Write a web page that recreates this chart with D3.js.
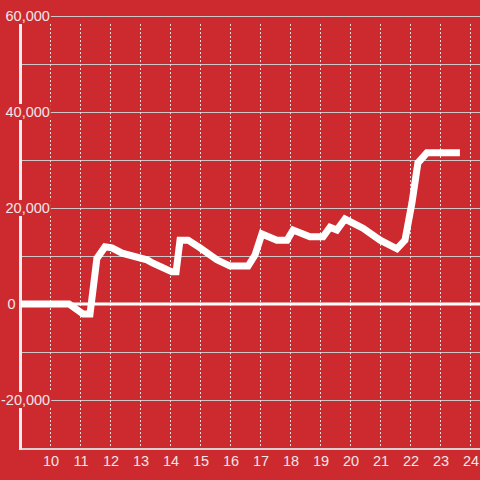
<!DOCTYPE html>
<html>
<head>
<meta charset="utf-8">
<script src="https://cdn.jsdelivr.net/npm/d3@7"></script>
<style>
html,body{margin:0;padding:0;background:#cc2a2f;}
svg{display:block;}
text{font-family:"Liberation Sans",Arial,sans-serif;}
</style>
</head>
<body>
<svg id="chart" width="480" height="480"></svg>
<script>
// Data
const xValues = [9.0, 10.6, 11.07, 11.3, 11.53, 11.8, 12.03, 12.37, 13.2, 13.4, 14.03, 14.17, 14.3, 14.57, 14.97, 15.53, 15.97, 16.57, 16.8, 17.03, 17.53, 17.87, 18.07, 18.63, 19.07, 19.3, 19.53, 19.8, 20.4, 20.97, 21.53, 21.8, 22.03, 22.23, 22.53, 23.63];
const yValues = [0, 0, -2100, -2100, 9500, 11900, 11700, 10600, 9200, 8500, 6700, 6700, 13300, 13300, 11700, 9200, 7900, 7900, 10200, 14600, 13300, 13300, 15400, 14000, 14000, 16000, 15400, 17700, 15800, 13300, 11500, 13300, 21000, 29400, 31500, 31500];
const xTicks = [10, 11, 12, 13, 14, 15, 16, 17, 18, 19, 20, 21, 22, 23, 24];
const yGrid = [-30000, -20000, -10000, 0, 10000, 20000, 30000, 40000, 50000, 60000];
const yLabels = [-20000, 0, 20000, 40000, 60000];

const W = 480, H = 480;
const bg = "#cc2a2f";
const svg = d3.select("#chart");
svg.append("rect").attr("width", W).attr("height", H).attr("fill", bg);

const x = d3.scaleLinear().domain([9, 24.3]).range([21, 480]);
const y = d3.scaleLinear().domain([-30000, 60000]).range([448, 16]);

// horizontal gridlines
svg.append("g").selectAll("line").data(yGrid.filter(d => d !== 0 && d !== -30000)).join("line")
  .attr("x1", 22).attr("x2", W)
  .attr("y1", d => y(d) + 0.5).attr("y2", d => y(d) + 0.5)
  .attr("stroke", "#cfc7c7").attr("stroke-width", 1);

// vertical dashed gridlines
svg.append("g").selectAll("line").data(xTicks).join("line")
  .attr("x1", d => Math.round(x(d)) - 0.5).attr("x2", d => Math.round(x(d)) - 0.5)
  .attr("y1", 24).attr("y2", 446)
  .attr("stroke", "#eadcdc").attr("stroke-width", 1)
  .attr("stroke-dasharray", "2,2");

// bottom domain line
svg.append("line").attr("x1", 20).attr("x2", W)
  .attr("y1", y(-30000) + 1).attr("y2", y(-30000) + 1)
  .attr("stroke", "#d8d0d0").attr("stroke-width", 2);

// y axis line
svg.append("line").attr("x1", 20.5).attr("x2", 20.5)
  .attr("y1", 16).attr("y2", 450)
  .attr("stroke", "#eeeeee").attr("stroke-width", 3);

// zero line
svg.append("line").attr("x1", 22).attr("x2", W)
  .attr("y1", y(0)).attr("y2", y(0))
  .attr("stroke", "#ffffff").attr("stroke-width", 3);

// y labels with background
const fmt = d3.format(",");
const yl = svg.append("g");
yLabels.forEach(v => {
  const label = fmt(v).replace("−", "-");
  let lx = 5.5;
  if (v < 0) lx = 1;
  if (v === 0) lx = 7.5;
  const t = yl.append("text")
    .attr("x", lx).attr("y", y(v))
    .attr("dy", "0.35em")
    .attr("font-size", 14.5)
    .attr("fill", "#f3e6e6")
    .text(label);
  const bb = t.node().getBBox();
  if (v !== 0) {
    yl.insert("rect", "text")
      .attr("x", bb.x - 1).attr("y", y(v) - 8)
      .attr("width", bb.width + 2).attr("height", 16)
      .attr("fill", bg);
  }
});

// x labels
svg.append("g").selectAll("text").data(xTicks).join("text")
  .attr("x", d => x(d)).attr("y", 461)
  .attr("dy", "0.35em")
  .attr("text-anchor", "middle")
  .attr("font-size", 14.5)
  .attr("fill", "#f3e6e6")
  .text(d => d);

// data line
const pts = xValues.map((d, i) => [d, yValues[i]]);
const line = d3.line().x(d => x(d[0])).y(d => y(d[1]));
svg.append("path").datum(pts)
  .attr("d", line)
  .attr("fill", "none")
  .attr("stroke", "#ffffff")
  .attr("stroke-width", 7)
  .attr("stroke-linejoin", "miter");
</script>
</body>
</html>
